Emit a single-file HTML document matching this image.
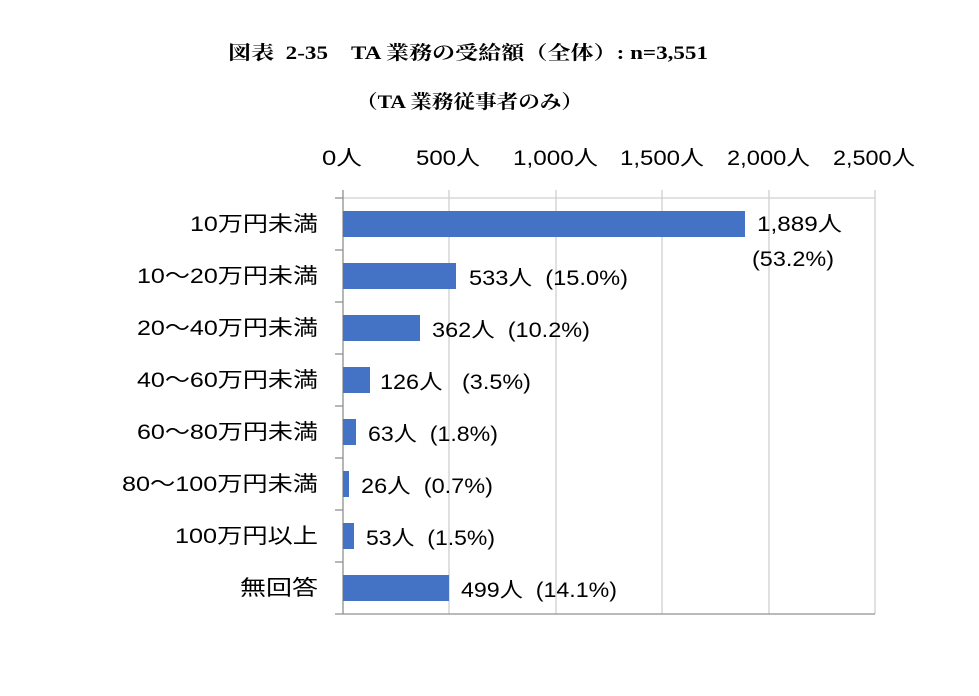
<!DOCTYPE html><html><head><meta charset="utf-8"><style>
body{margin:0;background:#fff;width:979px;height:691px;overflow:hidden}
text{white-space:pre}
</style></head><body>
<svg width="979" height="691" xmlns="http://www.w3.org/2000/svg" xml:space="preserve">
<g font-family="Liberation Serif, Noto Serif CJK SC, serif" font-weight="bold" font-size="19" fill="#000">
<text x="228" y="59" textLength="480" lengthAdjust="spacingAndGlyphs">図表  2-35    TA 業務の受給額（全体）: n=3,551</text>
<text x="356" y="108" textLength="227" lengthAdjust="spacingAndGlyphs">（TA 業務従事者のみ）</text>
</g>
<g stroke="#d0d0d0" stroke-width="1.3">
<line x1="449" y1="190" x2="449" y2="614"/><line x1="556" y1="190" x2="556" y2="614"/>
<line x1="662" y1="190" x2="662" y2="614"/><line x1="769" y1="190" x2="769" y2="614"/>
<line x1="875" y1="190" x2="875" y2="614"/>
<line x1="343" y1="198" x2="875" y2="198"/>
</g>
<g stroke="#909090" stroke-width="1.3">
<line x1="343" y1="190" x2="343" y2="614"/><line x1="335" y1="614" x2="875" y2="614"/>
<line x1="335" y1="198" x2="343" y2="198"/><line x1="335" y1="250" x2="343" y2="250"/><line x1="335" y1="302" x2="343" y2="302"/><line x1="335" y1="354" x2="343" y2="354"/><line x1="335" y1="406" x2="343" y2="406"/><line x1="335" y1="458" x2="343" y2="458"/><line x1="335" y1="510" x2="343" y2="510"/><line x1="335" y1="562" x2="343" y2="562"/>
</g>
<g fill="#4472c4">
<rect x="343" y="211" width="402" height="26"/>
<rect x="343" y="263" width="113" height="26"/>
<rect x="343" y="315" width="77" height="26"/>
<rect x="343" y="367" width="27" height="26"/>
<rect x="343" y="419" width="13" height="26"/>
<rect x="343" y="471" width="6" height="26"/>
<rect x="343" y="523" width="11" height="26"/>
<rect x="343" y="575" width="106" height="26"/>
</g>
<g font-family="Liberation Sans, Noto Sans CJK JP, sans-serif" font-size="21" fill="#000">
<text x="322" y="165" textLength="40" lengthAdjust="spacingAndGlyphs">0人</text>
<text x="416" y="165" textLength="64" lengthAdjust="spacingAndGlyphs">500人</text>
<text x="513" y="165" textLength="85" lengthAdjust="spacingAndGlyphs">1,000人</text>
<text x="620" y="165" textLength="84" lengthAdjust="spacingAndGlyphs">1,500人</text>
<text x="727" y="165" textLength="83" lengthAdjust="spacingAndGlyphs">2,000人</text>
<text x="833" y="165" textLength="82" lengthAdjust="spacingAndGlyphs">2,500人</text>

<text x="190" y="231" textLength="128" lengthAdjust="spacingAndGlyphs">10万円未満</text>
<text x="137" y="283" textLength="181" lengthAdjust="spacingAndGlyphs">10～20万円未満</text>
<text x="137" y="335" textLength="181" lengthAdjust="spacingAndGlyphs">20～40万円未満</text>
<text x="137" y="387" textLength="181" lengthAdjust="spacingAndGlyphs">40～60万円未満</text>
<text x="137" y="439" textLength="181" lengthAdjust="spacingAndGlyphs">60～80万円未満</text>
<text x="122" y="491" textLength="196" lengthAdjust="spacingAndGlyphs">80～100万円未満</text>
<text x="175" y="543" textLength="143" lengthAdjust="spacingAndGlyphs">100万円以上</text>
<text x="240" y="595" textLength="78" lengthAdjust="spacingAndGlyphs">無回答</text>

<text x="757" y="231" textLength="85" lengthAdjust="spacingAndGlyphs">1,889人</text>
<text x="752" y="266" textLength="82" lengthAdjust="spacingAndGlyphs">(53.2%)</text>
<text x="469" y="285" textLength="159" lengthAdjust="spacingAndGlyphs">533人  (15.0%)</text>
<text x="432" y="337" textLength="158" lengthAdjust="spacingAndGlyphs">362人  (10.2%)</text>
<text x="380" y="389" textLength="151" lengthAdjust="spacingAndGlyphs">126人   (3.5%)</text>
<text x="368" y="441" textLength="130" lengthAdjust="spacingAndGlyphs">63人  (1.8%)</text>
<text x="361" y="493" textLength="132" lengthAdjust="spacingAndGlyphs">26人  (0.7%)</text>
<text x="366" y="545" textLength="129" lengthAdjust="spacingAndGlyphs">53人  (1.5%)</text>
<text x="461" y="597" textLength="156" lengthAdjust="spacingAndGlyphs">499人  (14.1%)</text>
</g>
</svg>
</body></html>
